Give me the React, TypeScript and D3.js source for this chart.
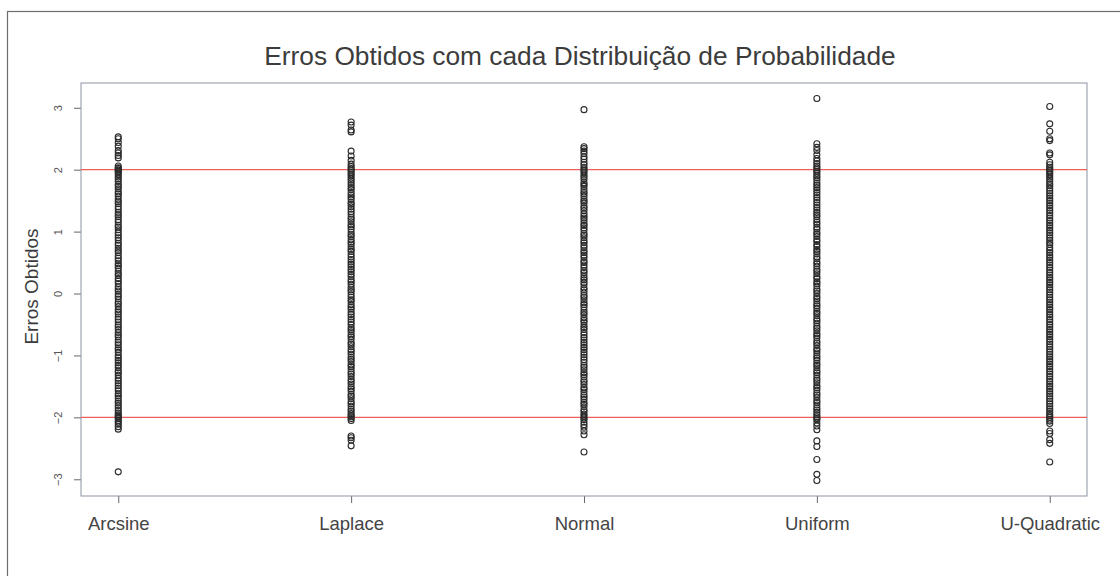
import React, { useEffect, useRef } from 'react';
import * as d3 from 'd3';

const title = 'Erros Obtidos com cada Distribuição de Probabilidade';
const yLabel = 'Erros Obtidos';
const categories = ['Arcsine', 'Laplace', 'Normal', 'Uniform', 'U-Quadratic'];
const yTicks = [-3, -2, -1, 0, 1, 2, 3];
const refLines = [2, -2];

// errors per distribution
const arcsine = [
  2.53, 2.50, 2.44, 2.38, 2.31, 2.27, 2.23, 2.19, 2.06, 2.03, 2.02, 2.00, 1.99, 1.97, 1.95, 1.92,
  1.88, 1.85, 1.81, 1.76, 1.73, 1.69, 1.64, 1.61, 1.57, 1.52, 1.48, 1.45, 1.40, 1.36, 1.31, 1.27,
  1.24, 1.19, 1.15, 1.10, 1.07, 1.03, 0.98, 0.94, 0.90, 0.86, 0.81, 0.78, 0.73, 0.69, 0.66, 0.61,
  0.57, 0.53, 0.48, 0.45, 0.41, 0.36, 0.32, 0.29, 0.24, 0.20, 0.16, 0.11, 0.07, 0.04, -0.01, -0.05,
  -0.09, -0.14, -0.17, -0.21, -0.26, -0.30, -0.33, -0.38, -0.42, -0.46, -0.51, -0.54, -0.58, -0.63,
  -0.67, -0.70, -0.75, -0.79, -0.83, -0.88, -0.91, -0.95, -1.00, -1.04, -1.08, -1.12, -1.16, -1.20,
  -1.25, -1.28, -1.32, -1.37, -1.41, -1.45, -1.49, -1.53, -1.57, -1.62, -1.65, -1.69, -1.74, -1.77,
  -1.81, -1.85, -1.89, -1.93, -1.96, -1.98, -2.00, -2.02, -2.05, -2.08, -2.11, -2.15, -2.19, -2.88,
];
const laplace = [
  2.77, 2.72, 2.64, 2.61, 2.30, 2.22, 2.15, 2.09, 2.05, 2.02, 1.99, 1.96, 1.93, 1.90, 1.86, 1.83,
  1.79, 1.75, 1.71, 1.68, 1.63, 1.59, 1.56, 1.52, 1.47, 1.44, 1.40, 1.36, 1.32, 1.28, 1.23, 1.20,
  1.16, 1.11, 1.08, 1.04, 0.99, 0.95, 0.92, 0.87, 0.83, 0.80, 0.75, 0.71, 0.68, 0.63, 0.59, 0.55,
  0.51, 0.47, 0.43, 0.39, 0.35, 0.31, 0.27, 0.22, 0.19, 0.15, 0.10, 0.06, 0.03, -0.02, -0.06, -0.10,
  -0.13, -0.18, -0.22, -0.25, -0.30, -0.34, -0.38, -0.42, -0.46, -0.50, -0.55, -0.58, -0.62, -0.67,
  -0.70, -0.74, -0.79, -0.82, -0.86, -0.91, -0.94, -0.98, -1.03, -1.06, -1.10, -1.15, -1.18, -1.22,
  -1.27, -1.30, -1.34, -1.39, -1.42, -1.46, -1.51, -1.54, -1.58, -1.63, -1.66, -1.70, -1.75, -1.78,
  -1.82, -1.87, -1.90, -1.94, -1.97, -1.99, -2.02, -2.05, -2.30, -2.33, -2.37, -2.46,
];
const normal = [
  2.97, 2.37, 2.34, 2.30, 2.26, 2.21, 2.17, 2.12, 2.08, 2.04, 2.01, 1.98, 1.95, 1.91, 1.88, 1.84,
  1.79, 1.76, 1.73, 1.68, 1.64, 1.61, 1.57, 1.52, 1.49, 1.46, 1.41, 1.38, 1.34, 1.29, 1.25, 1.22,
  1.18, 1.13, 1.10, 1.06, 1.02, 0.97, 0.94, 0.90, 0.85, 0.82, 0.78, 0.74, 0.69, 0.66, 0.62, 0.58,
  0.53, 0.50, 0.46, 0.42, 0.37, 0.34, 0.30, 0.25, 0.22, 0.18, 0.14, 0.09, 0.06, 0.02, -0.03, -0.06,
  -0.10, -0.15, -0.18, -0.22, -0.27, -0.31, -0.34, -0.39, -0.43, -0.46, -0.51, -0.55, -0.58, -0.63,
  -0.67, -0.71, -0.75, -0.79, -0.83, -0.87, -0.91, -0.95, -0.99, -1.03, -1.07, -1.11, -1.16, -1.19,
  -1.23, -1.28, -1.31, -1.35, -1.40, -1.43, -1.47, -1.52, -1.55, -1.59, -1.64, -1.67, -1.71, -1.76,
  -1.79, -1.83, -1.88, -1.91, -1.95, -1.98, -2.01, -2.04, -2.08, -2.12, -2.16, -2.22, -2.28, -2.56,
];
const uniform = [
  3.15, 2.42, 2.36, 2.31, 2.24, 2.18, 2.14, 2.10, 2.06, 2.03, 2.00, 1.97, 1.94, 1.90, 1.87, 1.83,
  1.78, 1.75, 1.71, 1.67, 1.63, 1.59, 1.55, 1.51, 1.47, 1.43, 1.39, 1.35, 1.31, 1.27, 1.24, 1.19,
  1.15, 1.12, 1.07, 1.04, 0.99, 0.96, 0.92, 0.87, 0.84, 0.79, 0.76, 0.71, 0.68, 0.64, 0.59, 0.56,
  0.51, 0.48, 0.44, 0.39, 0.36, 0.32, 0.27, 0.24, 0.19, 0.16, 0.12, 0.07, 0.04, 0.00, -0.05, -0.08,
  -0.12, -0.17, -0.20, -0.24, -0.29, -0.32, -0.36, -0.41, -0.44, -0.48, -0.53, -0.56, -0.60, -0.65,
  -0.68, -0.72, -0.77, -0.80, -0.84, -0.89, -0.92, -0.96, -1.01, -1.04, -1.08, -1.13, -1.16, -1.20,
  -1.25, -1.28, -1.32, -1.37, -1.40, -1.44, -1.49, -1.52, -1.56, -1.61, -1.64, -1.68, -1.73, -1.76,
  -1.80, -1.85, -1.88, -1.92, -1.96, -1.99, -2.02, -2.04, -2.09, -2.14, -2.20, -2.38, -2.47, -2.68,
  -2.92, -3.02,
];
const uQuadratic = [
  3.02, 2.74, 2.62, 2.50, 2.47, 2.27, 2.24, 2.12, 2.08, 2.04, 2.01, 1.98, 1.95, 1.92, 1.88, 1.85,
  1.81, 1.77, 1.74, 1.70, 1.66, 1.62, 1.58, 1.54, 1.50, 1.46, 1.42, 1.38, 1.34, 1.30, 1.26, 1.22,
  1.18, 1.14, 1.10, 1.06, 1.02, 0.98, 0.94, 0.90, 0.86, 0.82, 0.79, 0.74, 0.70, 0.66, 0.62, 0.58,
  0.54, 0.50, 0.46, 0.42, 0.38, 0.34, 0.30, 0.26, 0.22, 0.18, 0.14, 0.10, 0.06, 0.02, -0.02, -0.06,
  -0.10, -0.14, -0.18, -0.22, -0.26, -0.30, -0.34, -0.38, -0.42, -0.46, -0.50, -0.54, -0.58, -0.62,
  -0.66, -0.70, -0.74, -0.78, -0.82, -0.86, -0.90, -0.94, -0.98, -1.02, -1.06, -1.10, -1.14, -1.18,
  -1.22, -1.26, -1.30, -1.34, -1.38, -1.42, -1.46, -1.50, -1.54, -1.58, -1.62, -1.66, -1.70, -1.74,
  -1.78, -1.82, -1.86, -1.90, -1.94, -1.97, -2.00, -2.03, -2.06, -2.10, -2.22, -2.26, -2.36, -2.42,
  -2.72,
];
const series = [arcsine, laplace, normal, uniform, uQuadratic];

const App = () => {
  const ref = useRef<SVGSVGElement>(null);

  useEffect(() => {
    const width = 1120;
    const height = 576;
    const left = 81;
    const right = 1087;
    const top = 83;
    const bottom = 496;
    const font = '"Liberation Sans", Arial, Helvetica, sans-serif';
    const ink = '#3c3c3c';

    const x = d3.scaleLinear().domain([0.84, 5.16]).range([left, right]);
    const y = d3.scaleLinear().domain([-3.27, 3.4]).range([bottom, top]);

    const svg = d3.select(ref.current);
    svg.selectAll('*').remove();
    svg.attr('width', width).attr('height', height).attr('viewBox', [0, 0, width, height]);

    svg.append('rect').attr('width', width).attr('height', height).attr('fill', 'white');

    // outer frame of the scanned figure
    svg.append('rect')
      .attr('x', 7.5).attr('y', 11.5)
      .attr('width', 1130).attr('height', 600)
      .attr('fill', 'none').attr('stroke', '#6e6e6e').attr('stroke-width', 1.2);

    svg.append('text')
      .attr('x', 580).attr('y', 65)
      .attr('text-anchor', 'middle')
      .attr('font-family', font).attr('font-size', 26.3)
      .attr('fill', ink)
      .text(title);

    svg.append('text')
      .attr('transform', `translate(38,${(top + bottom) / 2 - 3}) rotate(-90)`)
      .attr('text-anchor', 'middle')
      .attr('font-family', font).attr('font-size', 19)
      .attr('fill', ink)
      .text(yLabel);

    // y axis
    svg.append('g')
      .attr('transform', `translate(${left},0)`)
      .call(d3.axisLeft(y).tickValues(yTicks).tickSize(7).tickFormat(d3.format('d')))
      .call(g => g.select('.domain').remove())
      .call(g => g.selectAll('.tick line').attr('stroke', '#666'))
      .call(g => g.selectAll('.tick text')
        .attr('transform', 'rotate(-90)')
        .attr('x', 0).attr('y', -19).attr('dy', 0)
        .attr('text-anchor', 'middle')
        .attr('font-family', font).attr('font-size', 11)
        .attr('fill', '#555'));

    // x axis
    svg.append('g')
      .attr('transform', `translate(0,${bottom})`)
      .call(d3.axisBottom(x).tickValues([1, 2, 3, 4, 5]).tickSize(7)
        .tickFormat(d => categories[(d as number) - 1]))
      .call(g => g.select('.domain').remove())
      .call(g => g.selectAll('.tick line').attr('stroke', '#666'))
      .call(g => g.selectAll('.tick text')
        .attr('y', 34).attr('dy', 0)
        .attr('font-family', font).attr('font-size', 18.5)
        .attr('fill', '#444'));

    // plot box
    svg.append('rect')
      .attr('x', left).attr('y', top)
      .attr('width', right - left).attr('height', bottom - top)
      .attr('fill', 'none').attr('stroke', '#8e93a0').attr('stroke-width', 1);

    svg.append('g')
      .selectAll('line')
      .data(refLines)
      .join('line')
      .attr('x1', left).attr('x2', right)
      .attr('y1', d => y(d)).attr('y2', d => y(d))
      .attr('stroke', '#ec5f5a').attr('stroke-width', 1.3);

    const pts = svg.append('g')
      .attr('fill', 'none')
      .attr('stroke', '#2b2b2b')
      .attr('stroke-width', 1.1);

    series.forEach((values, i) => {
      pts.append('g')
        .selectAll('circle')
        .data(values)
        .join('circle')
        .attr('cx', x(i + 1))
        .attr('cy', d => y(d))
        .attr('r', 3);
    });
  }, []);

  return <svg ref={ref} style={{ position: 'absolute', left: 0, top: 0, display: 'block' }} />;
};

export default App;
